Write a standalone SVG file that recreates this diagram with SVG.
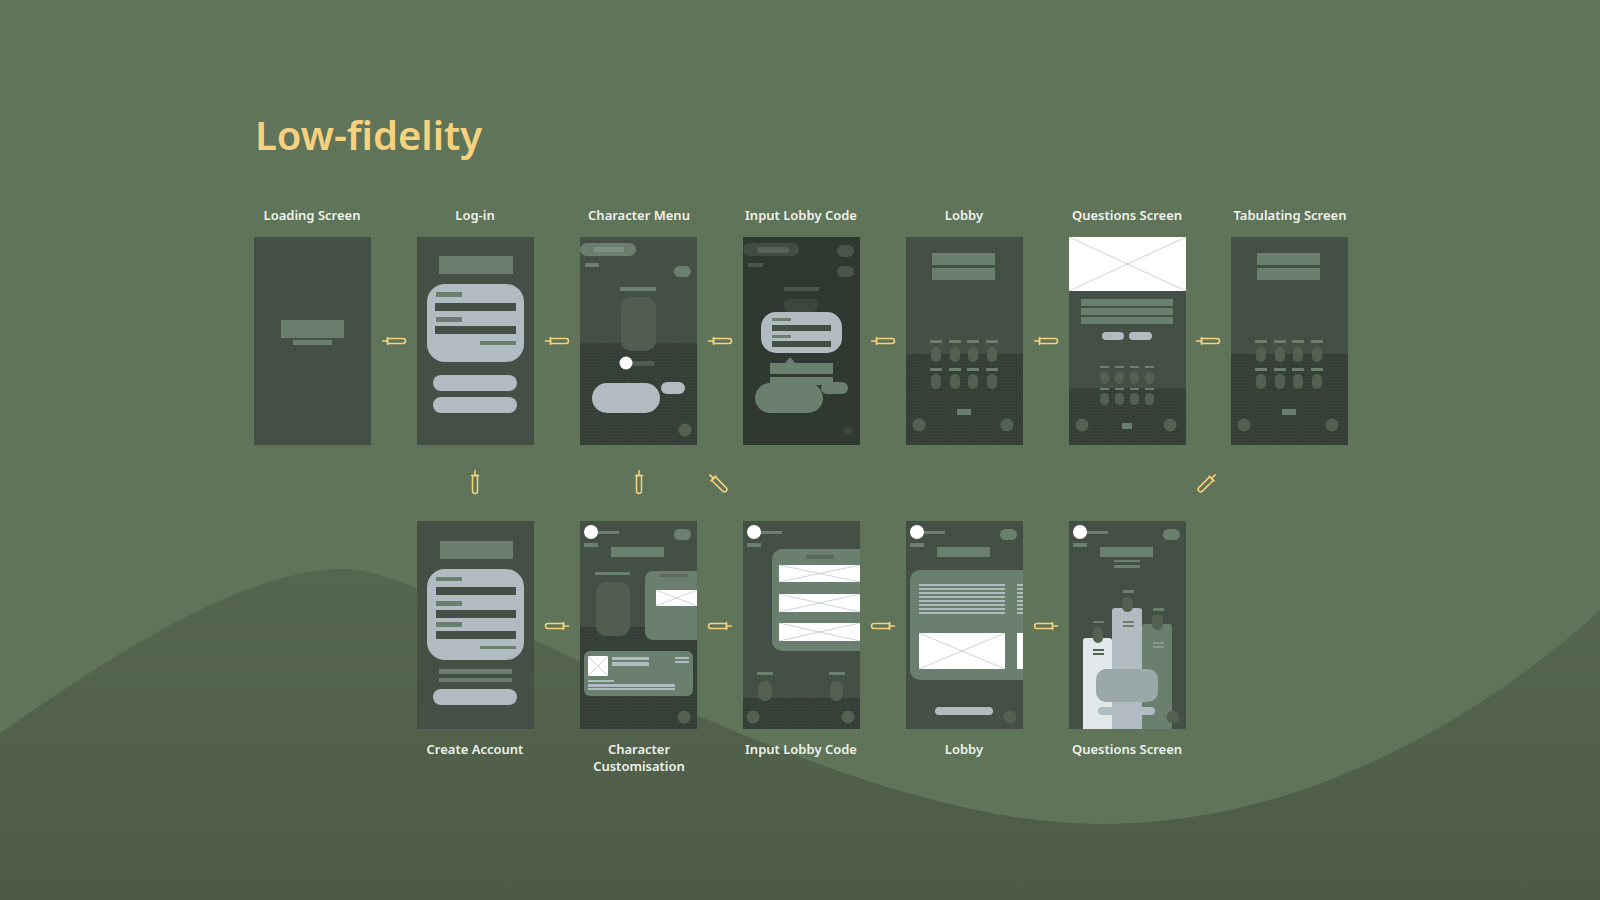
<svg xmlns="http://www.w3.org/2000/svg" width="1600" height="900" viewBox="0 0 1600 900">
<style>
.scr{fill:#444F46}
.dkf{fill:url(#dots)}
.mid{fill:#6B7F6F}
.pale{fill:#B0BBC2}
.obj{fill:#526151}
.wht{fill:#FFFFFF}
.xl{stroke:#A9B6C2;stroke-width:0.6;fill:none}
.lbl{font-family:"Noto Sans","Open Sans",sans-serif;font-size:13px;font-weight:600;fill:#EEF2EC;text-anchor:middle}
.syr{fill:none;stroke:#F5D27C;stroke-width:1.5;stroke-linecap:round;stroke-linejoin:round}
</style>
<defs>
<linearGradient id="wave" x1="0" y1="0" x2="0" y2="1">
<stop offset="0" stop-color="#56674F"/>
<stop offset="1" stop-color="#4C5B48"/>
</linearGradient>
<pattern id="dots" width="3" height="3" patternUnits="userSpaceOnUse">
<rect width="3" height="3" fill="#353F37"/>
<rect x="1" y="1" width="1" height="1" fill="#3F4A41"/>
</pattern>
<clipPath id="cs" clipPathUnits="userSpaceOnUse"><rect width="117" height="208"/></clipPath>
<g id="syr" class="syr">
<line x1="-11.5" y1="0" x2="-6.5" y2="0"/>
<line x1="-6.5" y1="-3.5" x2="-6.5" y2="3.5"/>
<path d="M-6.5,-2.5 H9 A2.5,2.5 0 0 1 9,2.5 H-6.5 Z"/>
</g>
</defs>
<rect width="1600" height="900" fill="#607459"/>
<path d="M0,733 C120,650 250,566 347,569 C450,572 820,824 1102,824 C1300,824 1480,720 1600,610 L1600,900 L0,900 Z" fill="url(#wave)"/>
<text x="255" y="150" font-family="'Noto Sans','Open Sans',sans-serif" font-size="40" font-weight="600" fill="#F7D27E">Low-fidelity</text>

<g id="labels">
<text class="lbl" x="312" y="220">Loading Screen</text>
<text class="lbl" x="475" y="220">Log-in</text>
<text class="lbl" x="639" y="220">Character Menu</text>
<text class="lbl" x="801" y="220">Input Lobby Code</text>
<text class="lbl" x="964" y="220">Lobby</text>
<text class="lbl" x="1127" y="220">Questions Screen</text>
<text class="lbl" x="1290" y="220">Tabulating Screen</text>
<text class="lbl" x="475" y="754">Create Account</text>
<text class="lbl" x="639" y="754">Character</text>
<text class="lbl" x="639" y="771">Customisation</text>
<text class="lbl" x="801" y="754">Input Lobby Code</text>
<text class="lbl" x="964" y="754">Lobby</text>
<text class="lbl" x="1127" y="754">Questions Screen</text>
</g>

<g id="loading-screen" transform="translate(254,237)">
<rect class="scr" width="117" height="208"/>
<rect class="mid" x="27" y="83" width="63" height="18"/>
<rect class="mid" x="39" y="103" width="39" height="5"/>
</g>

<g id="log-in" transform="translate(417,237)">
<rect class="scr" width="117" height="208"/>
<rect class="mid" x="22" y="19" width="74" height="18"/>
<rect class="pale" x="10" y="47" width="97" height="78" rx="18"/>
<rect class="mid" x="19" y="55" width="26" height="5"/>
<rect class="scr" x="18" y="66" width="81" height="8"/>
<rect class="mid" x="19" y="80" width="26" height="5"/>
<rect class="scr" x="18" y="89" width="81" height="8"/>
<rect class="mid" x="63" y="104" width="36" height="4"/>
<rect class="pale" x="16" y="138" width="84" height="16" rx="8"/>
<rect class="pale" x="16" y="160" width="84" height="16" rx="8"/>
</g>

<g id="character-menu" transform="translate(580,237)">
<rect class="scr" width="117" height="208"/>
<rect class="dkf" y="106" width="117" height="102"/>
<rect class="mid" x="0" y="6" width="56" height="13" rx="6.5"/>
<rect x="14" y="10" width="30" height="5" fill="#8A9B8E" opacity="0.6"/>
<rect class="mid" x="5" y="26" width="14" height="4"/>
<rect class="mid" x="94" y="29" width="17" height="11" rx="5.5"/>
<rect class="mid" x="40" y="50" width="36" height="4"/>
<rect x="41" y="60" width="35" height="54" rx="10" fill="#4F5E50"/>
<rect x="46" y="124" width="29" height="5" rx="2.5" fill="#4F5D50"/>
<circle class="wht" cx="46" cy="126" r="6.5"/>
<rect class="pale" x="12" y="146" width="68" height="30" rx="15"/>
<rect class="pale" x="81" y="145" width="24" height="12" rx="6"/>
<circle class="obj" cx="105" cy="193" r="6.5"/>
</g>

<g id="input-lobby-code" transform="translate(743,237)">
<rect width="117" height="208" fill="#2F3931"/>
<rect x="0" y="6" width="56" height="13" rx="6.5" fill="#414D43"/>
<rect x="14" y="10" width="32" height="6" rx="3" fill="#56645A"/>
<rect x="94" y="8" width="17" height="12" rx="6" fill="#4A564C"/>
<rect x="94" y="29" width="17" height="11" rx="5.5" fill="#4A564C"/>
<rect x="5" y="26" width="15" height="4" fill="#4A564C"/>
<rect x="41" y="50" width="35" height="4" fill="#4A564C"/>
<rect x="41" y="62" width="34" height="13" rx="6" fill="#3C473E"/>
<rect class="pale" x="18" y="75" width="81" height="41" rx="15"/>
<rect class="mid" x="29" y="81" width="19" height="3"/>
<rect class="scr" x="29" y="88" width="59" height="6"/>
<rect class="mid" x="29" y="98" width="19" height="3"/>
<rect class="scr" x="29" y="104" width="59" height="6"/>
<polygon class="mid" points="47,120 42,126 52,126"/>
<rect class="mid" x="27" y="126" width="63" height="11"/>
<rect class="mid" x="27" y="140" width="63" height="8"/>
<rect class="mid" x="12" y="146" width="68" height="30" rx="15"/>
<rect class="mid" x="78" y="145" width="27" height="12" rx="6"/>
<circle cx="105" cy="194" r="4" fill="#3C473E"/>
</g>

<g id="lobby" transform="translate(906,237)">
<rect class="scr" width="117" height="208"/>
<rect class="dkf" y="117" width="117" height="91"/>
<rect class="mid" x="26" y="16" width="63" height="12"/>
<rect class="mid" x="26" y="31" width="63" height="12"/>
<g class="mid"><rect x="24" y="103" width="12" height="3"/><rect x="43" y="103" width="12" height="3"/><rect x="61" y="103" width="12" height="3"/><rect x="80" y="103" width="12" height="3"/>
<rect x="24" y="131" width="12" height="3"/><rect x="43" y="131" width="12" height="3"/><rect x="61" y="131" width="12" height="3"/><rect x="80" y="131" width="12" height="3"/></g>
<g class="obj"><rect x="25" y="110" width="10" height="15" rx="5"/><rect x="44" y="110" width="10" height="15" rx="5"/><rect x="62" y="110" width="10" height="15" rx="5"/><rect x="81" y="110" width="10" height="15" rx="5"/>
<rect x="25" y="137" width="10" height="15" rx="5"/><rect x="44" y="137" width="10" height="15" rx="5"/><rect x="62" y="137" width="10" height="15" rx="5"/><rect x="81" y="137" width="10" height="15" rx="5"/></g>
<rect class="mid" x="51" y="172" width="14" height="6"/>
<circle class="obj" cx="13" cy="188" r="6.5"/>
<circle class="obj" cx="101" cy="188" r="6.5"/>
</g>

<g id="questions-screen" transform="translate(1069,237)">
<rect class="scr" width="117" height="208"/>
<rect class="dkf" y="151" width="117" height="57"/>
<rect class="wht" width="117" height="54"/>
<path class="xl" d="M0,0 L117,54 M117,0 L0,54"/>
<rect class="mid" x="12" y="62" width="92" height="7"/>
<rect class="mid" x="12" y="71" width="92" height="7"/>
<rect class="mid" x="12" y="80" width="92" height="7"/>
<rect class="pale" x="33" y="95" width="22" height="8" rx="4"/>
<rect class="pale" x="60" y="95" width="23" height="8" rx="4"/>
<g class="mid"><rect x="31" y="129" width="9" height="2"/><rect x="46" y="129" width="9" height="2"/><rect x="61" y="129" width="9" height="2"/><rect x="76" y="129" width="9" height="2"/>
<rect x="31" y="151" width="9" height="2"/><rect x="46" y="151" width="9" height="2"/><rect x="61" y="151" width="9" height="2"/><rect x="76" y="151" width="9" height="2"/></g>
<g class="obj"><rect x="31" y="135" width="9" height="12" rx="4.5"/><rect x="46" y="135" width="9" height="12" rx="4.5"/><rect x="61" y="135" width="9" height="12" rx="4.5"/><rect x="76" y="135" width="9" height="12" rx="4.5"/>
<rect x="31" y="156" width="9" height="12" rx="4.5"/><rect x="46" y="156" width="9" height="12" rx="4.5"/><rect x="61" y="156" width="9" height="12" rx="4.5"/><rect x="76" y="156" width="9" height="12" rx="4.5"/></g>
<rect class="mid" x="53" y="186" width="10" height="6"/>
<circle class="obj" cx="13" cy="188" r="6.5"/>
<circle class="obj" cx="101" cy="188" r="6.5"/>
</g>

<g id="tabulating-screen" transform="translate(1231,237)">
<rect class="scr" width="117" height="208"/>
<rect class="dkf" y="117" width="117" height="91"/>
<rect class="mid" x="26" y="16" width="63" height="12"/>
<rect class="mid" x="26" y="31" width="63" height="12"/>
<g class="mid"><rect x="24" y="103" width="12" height="3"/><rect x="43" y="103" width="12" height="3"/><rect x="61" y="103" width="12" height="3"/><rect x="80" y="103" width="12" height="3"/>
<rect x="24" y="131" width="12" height="3"/><rect x="43" y="131" width="12" height="3"/><rect x="61" y="131" width="12" height="3"/><rect x="80" y="131" width="12" height="3"/></g>
<g class="obj"><rect x="25" y="110" width="10" height="15" rx="5"/><rect x="44" y="110" width="10" height="15" rx="5"/><rect x="62" y="110" width="10" height="15" rx="5"/><rect x="81" y="110" width="10" height="15" rx="5"/>
<rect x="25" y="137" width="10" height="15" rx="5"/><rect x="44" y="137" width="10" height="15" rx="5"/><rect x="62" y="137" width="10" height="15" rx="5"/><rect x="81" y="137" width="10" height="15" rx="5"/></g>
<rect class="mid" x="51" y="172" width="14" height="6"/>
<circle class="obj" cx="13" cy="188" r="6.5"/>
<circle class="obj" cx="101" cy="188" r="6.5"/>
</g>

<g id="create-account" transform="translate(417,521)">
<rect class="scr" width="117" height="208"/>
<rect class="mid" x="23" y="20" width="73" height="18"/>
<rect class="pale" x="10" y="48" width="97" height="91" rx="18"/>
<rect class="mid" x="19" y="56" width="26" height="4"/>
<rect class="scr" x="19" y="66" width="80" height="8"/>
<rect class="mid" x="19" y="80" width="26" height="5"/>
<rect class="scr" x="19" y="89" width="80" height="8"/>
<rect class="mid" x="19" y="101" width="26" height="5"/>
<rect class="scr" x="19" y="110" width="80" height="8"/>
<rect class="mid" x="63" y="125" width="36" height="3"/>
<rect class="mid" x="22" y="148" width="73" height="5"/>
<rect class="mid" x="22" y="157" width="73" height="4"/>
<rect class="pale" x="16" y="168" width="84" height="16" rx="8"/>
</g>

<g id="character-customisation" transform="translate(580,521)">
<g clip-path="url(#cs)">
<rect class="scr" width="117" height="208"/>
<rect class="dkf" y="106" width="117" height="102"/>
<rect class="mid" x="17" y="10" width="22" height="3"/>
<circle class="wht" cx="11" cy="11" r="7"/>
<rect class="mid" x="94" y="8" width="17" height="11" rx="5.5"/>
<rect class="mid" x="4" y="22" width="14" height="4"/>
<rect class="mid" x="31" y="26" width="53" height="10"/>
<rect class="mid" x="15" y="51" width="35" height="3"/>
<rect x="16" y="61" width="34" height="54" rx="10" fill="#4F5E50"/>
<rect class="mid" x="65" y="50" width="60" height="69" rx="8"/>
<rect x="80" y="53" width="28" height="3" fill="#5A6B5C"/>
<rect class="wht" x="76" y="69" width="41" height="16"/>
<path class="xl" d="M76,69 L117,85 M117,69 L76,85"/>
<rect class="mid" x="4" y="130" width="109" height="45" rx="6"/>
<rect class="wht" x="8" y="135" width="20" height="20"/>
<path class="xl" d="M8,135 L28,155 M28,135 L8,155"/>
<rect class="pale" x="32" y="136" width="37" height="3"/>
<rect class="pale" x="32" y="141" width="37" height="4"/>
<rect class="pale" x="95" y="136" width="14" height="2"/>
<rect class="pale" x="95" y="140" width="14" height="2"/>
<rect class="pale" x="8" y="159" width="26" height="2"/>
<rect class="pale" x="8" y="163" width="87" height="3"/>
<rect class="pale" x="8" y="167" width="87" height="2"/>
<circle class="obj" cx="104" cy="196" r="6.5"/>
</g>
</g>

<g id="input-lobby-code-2" transform="translate(743,521)">
<g clip-path="url(#cs)">
<rect class="scr" width="117" height="208"/>
<rect class="dkf" y="177" width="117" height="31"/>
<rect class="mid" x="17" y="10" width="22" height="3"/>
<circle class="wht" cx="11" cy="11" r="7"/>
<rect class="mid" x="4" y="22" width="14" height="4"/>
<rect class="mid" x="29" y="28" width="100" height="102" rx="10"/>
<rect x="63" y="34" width="28" height="4" fill="#5A6B5C"/>
<rect class="wht" x="36" y="44" width="81" height="17"/>
<path class="xl" d="M36,44 L117,61 M117,44 L36,61"/>
<rect class="wht" x="36" y="73" width="81" height="18"/>
<path class="xl" d="M36,73 L117,91 M117,73 L36,91"/>
<rect class="wht" x="36" y="102" width="81" height="18"/>
<path class="xl" d="M36,102 L117,120 M117,102 L36,120"/>
<rect class="mid" x="14" y="151" width="16" height="3"/>
<rect class="mid" x="86" y="151" width="16" height="3"/>
<rect class="obj" x="15" y="160" width="14" height="20" rx="7"/>
<rect class="obj" x="87" y="160" width="13" height="20" rx="6.5"/>
<circle class="obj" cx="10" cy="196" r="6.5"/>
<circle class="obj" cx="105" cy="196" r="6.5"/>
</g>
</g>

<g id="lobby-2" transform="translate(906,521)">
<g clip-path="url(#cs)">
<rect class="scr" width="117" height="208"/>
<rect class="mid" x="17" y="10" width="22" height="3"/>
<circle class="wht" cx="11" cy="11" r="7"/>
<rect class="mid" x="94" y="8" width="17" height="11" rx="5.5"/>
<rect class="mid" x="4" y="22" width="14" height="4"/>
<rect class="mid" x="31" y="26" width="53" height="10"/>
<rect class="mid" x="4" y="49" width="125" height="110" rx="10"/>
<g class="pale"><rect x="13" y="63" width="86" height="2"/><rect x="13" y="67" width="86" height="2"/><rect x="13" y="71" width="86" height="2"/><rect x="13" y="75" width="86" height="2"/><rect x="13" y="79" width="86" height="2"/><rect x="13" y="83" width="86" height="2"/><rect x="13" y="87" width="86" height="2"/><rect x="13" y="91" width="86" height="2"/>
<rect x="111" y="63" width="6" height="2"/><rect x="111" y="67" width="6" height="2"/><rect x="111" y="71" width="6" height="2"/><rect x="111" y="75" width="6" height="2"/><rect x="111" y="79" width="6" height="2"/><rect x="111" y="83" width="6" height="2"/><rect x="111" y="87" width="6" height="2"/><rect x="111" y="91" width="6" height="2"/></g>
<rect class="wht" x="13" y="112" width="86" height="36"/>
<path class="xl" d="M13,112 L99,148 M99,112 L13,148"/>
<rect class="wht" x="111" y="112" width="6" height="36"/>
<rect class="pale" x="29" y="186" width="58" height="8" rx="4"/>
<circle class="obj" cx="104" cy="196" r="6.5"/>
</g>
</g>

<g id="questions-screen-2" transform="translate(1069,521)">
<g clip-path="url(#cs)">
<rect class="scr" width="117" height="208"/>
<rect class="mid" x="17" y="10" width="22" height="3"/>
<circle class="wht" cx="11" cy="11" r="7"/>
<rect class="mid" x="94" y="8" width="17" height="11" rx="5.5"/>
<rect class="mid" x="4" y="22" width="14" height="4"/>
<rect class="mid" x="31" y="26" width="53" height="10"/>
<rect class="mid" x="45" y="39" width="26" height="2"/>
<rect class="mid" x="45" y="44" width="26" height="3"/>
<rect class="mid" x="73" y="103" width="30" height="110" rx="3"/>
<rect class="pale" x="43" y="87" width="30" height="126" rx="3"/>
<rect x="14" y="117" width="29" height="96" rx="3" fill="#E2E8EA"/>
<rect class="obj" x="83" y="93" width="11" height="16" rx="5.5"/>
<rect class="obj" x="53" y="76" width="11" height="15" rx="5.5"/>
<rect class="obj" x="24" y="106" width="10" height="16" rx="5"/>
<rect class="mid" x="84" y="87" width="11" height="3"/>
<rect class="mid" x="54" y="69" width="11" height="3"/>
<rect class="mid" x="24" y="100" width="11" height="2"/>
<rect class="obj" x="24" y="128" width="11" height="2"/>
<rect class="obj" x="24" y="132" width="11" height="2"/>
<rect class="mid" x="54" y="100" width="11" height="2"/>
<rect class="mid" x="54" y="104" width="11" height="2"/>
<rect x="84" y="121" width="11" height="2" fill="#8A9B8E"/>
<rect x="84" y="125" width="11" height="2" fill="#8A9B8E"/>
<rect x="27" y="148" width="62" height="33" rx="10" fill="#9AA8A8"/>
<rect class="pale" x="29" y="186" width="57" height="8" rx="4"/>
<circle class="obj" cx="104" cy="196" r="6.5"/>
</g>
</g>

<g id="connectors">
<use href="#syr" transform="translate(394,341)"/>
<use href="#syr" transform="translate(557,341)"/>
<use href="#syr" transform="translate(720,341)"/>
<use href="#syr" transform="translate(883,341)"/>
<use href="#syr" transform="translate(1046,341)"/>
<use href="#syr" transform="translate(1208,341)"/>
<use href="#syr" transform="translate(475,482) rotate(90)"/>
<use href="#syr" transform="translate(639,482) rotate(90)"/>
<use href="#syr" transform="translate(718,483) rotate(45)"/>
<use href="#syr" transform="translate(1207,483) rotate(135)"/>
<use href="#syr" transform="translate(557,626) rotate(180)"/>
<use href="#syr" transform="translate(720,626) rotate(180)"/>
<use href="#syr" transform="translate(883,626) rotate(180)"/>
<use href="#syr" transform="translate(1046,626) rotate(180)"/>
</g>
</svg>
